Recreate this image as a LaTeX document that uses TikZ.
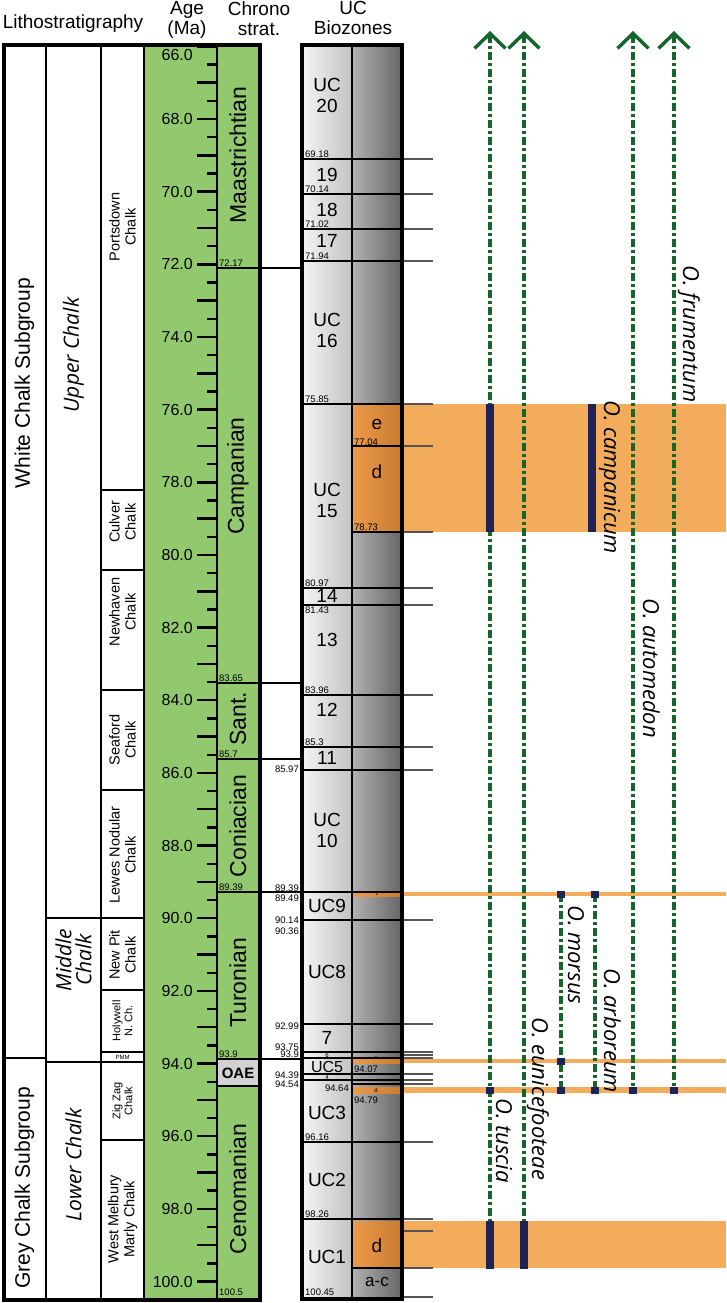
\documentclass[tikz,border=0pt]{standalone}
\usepackage{fontspec}
\setmainfont{Liberation Sans}
\newfontfamily\spfont{Open Sans}
\usetikzlibrary{arrows.meta}
\definecolor{agegreen}{RGB}{146,201,110}
\definecolor{oaegrey}{RGB}{210,210,210}
\definecolor{bandorange}{RGB}{243,171,92}
\definecolor{zonelt}{RGB}{236,155,76}
\definecolor{zonedk}{RGB}{202,122,46}
\definecolor{navy}{RGB}{30,34,84}
\definecolor{spgreen}{RGB}{21,101,45}
\definecolor{tickgrey}{RGB}{85,85,85}
\tikzstyle{hd}=[font=\fontsize{19}{20}\selectfont, align=center, inner sep=0, anchor=north]
\tikzstyle{agelab}=[font=\fontsize{16}{16}\selectfont, anchor=east, inner sep=0]
\tikzstyle{num}=[font=\fontsize{9.5}{10}\selectfont, inner sep=0]
\tikzstyle{zone}=[font=\fontsize{19}{21}\selectfont, align=center, inner sep=0]
\tikzstyle{stage}=[font=\fontsize{23}{23}\selectfont, rotate=90, inner sep=0]
\tikzstyle{fm}=[font=\fontsize{14.5}{16}\selectfont, rotate=90, align=center, inner sep=0]
\tikzstyle{grp}=[font=\fontsize{21}{21}\selectfont, rotate=90, inner sep=0]
\tikzstyle{unit}=[font=\fontsize{21}{20}\selectfont\spfont\itshape, rotate=90, align=center, inner sep=0]
\tikzstyle{taxon}=[font=\fontsize{22}{22}\selectfont\spfont\itshape, rotate=-90, anchor=base west, inner sep=0]
\tikzstyle{rng}=[spgreen, line width=3.4pt, dash pattern=on 8pt off 3pt on 3pt off 3pt]
\tikzstyle{hit}=[fill=navy, minimum width=8pt, minimum height=7pt, inner sep=0]
\tikzstyle{bd}=[line width=2pt]
\tikzstyle{tk}=[tickgrey, line width=2pt]

\begin{document}
\begin{tikzpicture}[x=1pt, y=-1pt]
\useasboundingbox (0,0) rectangle (726,1303);
\node[hd, anchor=base] (hlitho) at (73,29) {Lithostratigraphy};
\node[hd] (hage) at (187,1.5) {Age\\(Ma)};
\node[hd] (hchron) at (259,1.5) {Chrono\\strat.};
\node[hd] (huc) at (353,1.5) {UC\\Biozones};

\fill[agegreen] (144,45) rectangle (259,1299);
\fill[oaegrey] (217,1059) rectangle (259,1086);
\draw[bd] (217,1086) -- (259,1086);
\foreach \a in {0,...,34}
	{\draw[line width=2.5pt] (197,{46.3+36.33*\a}) -- (217,{46.3+36.33*\a});
	\draw[line width=2.5pt] (207,{64.5+36.33*\a}) -- (217,{64.5+36.33*\a});}
\node[agelab] (a66) at (193,55) {66.0};
\foreach \a [evaluate=\a as \v using {int(66+2*\a)}] in {1,...,17}
	\node[agelab] (a\v) at (193,{46.3+72.66*\a}) {\v.0};

\foreach \y/\t [count=\i] in {268/72.17,683/83.65,759/85.7,892/89.39,1059/93.9}
	{\draw[bd] (217,\y) -- (302,\y);
	\node[num, anchor=south west] (cb\i) at (219,\y-1) {\t};}
\node[num, anchor=south west] (cb6) at (219,1296) {100.5};
\node[stage] (maas) at (238,155) {Maastrichtian};
\node[stage] (camp) at (238,476) {Campanian};
\node[stage] (sant) at (238,719) {Sant.};
\node[stage] (coni) at (238,826) {Coniacian};
\node[stage] (turo) at (238,983) {Turonian};
\node[stage] (ceno) at (238,1189) {Cenomanian};
\node[font=\fontsize{15}{15}\selectfont\bfseries, inner sep=0] (oae) at (238,1073) {OAE};

\foreach \y in {490,570,690,790,918,990,1052,1062,1140}
	\draw[bd] (101,\y) -- (144,\y);
\draw[bd] (46,918) -- (101,918) (46,1062) -- (101,1062) (3,1058) -- (46,1058);
\draw[bd] (46,45) -- (46,1299) (101,45) -- (101,1299) (144,45) -- (144,1299) (217,45) -- (217,1299);
\node[grp] (white) at (24.5,383) {White Chalk Subgroup};
\node[grp] (grey) at (24.5,1188) {Grey Chalk Subgroup};
\node[unit] (upper) at (73.5,355) {Upper Chalk};
\node[unit] (middle) at (73.5,960) {Middle\\Chalk};
\node[unit] (lower) at (73.5,1165) {Lower Chalk};
\node[fm] (portsdown) at (122.5,227) {Portsdown\\Chalk};
\node[fm] (culver) at (122.5,522) {Culver\\Chalk};
\node[fm] (newhaven) at (122.5,612) {Newhaven\\Chalk};
\node[fm] (seaford) at (122.5,740) {Seaford\\Chalk};
\node[fm] (lewes) at (122.5,855) {Lewes Nodular\\Chalk};
\node[fm] (newpit) at (122.5,955) {New Pit\\Chalk};
\node[fm, font=\fontsize{11}{12}\selectfont] (holywell) at (122.5,1021) {Holywell\\N. Ch.};
\node[font=\fontsize{6}{6}\selectfont, inner sep=0] (pmm) at (122.5,1057) {PMM};
\node[fm, font=\fontsize{11}{12}\selectfont] (zigzag) at (122.5,1101) {Zig Zag\\Chalk};
\node[fm] (westmelbury) at (122.5,1219) {West Melbury\\Marly Chalk};
\draw[line width=4pt] (3.5,45) rectangle (259.5,1299.5);

\shade[left color=black!4, right color=black!24] (302,45) rectangle (352,1298);
\shade[left color=black!30, right color=black!60] (352,45) rectangle (401.5,1298);
\foreach \ya/\yb in {404/532,892/896,1059/1063,1087/1093,1221/1268}
	{\shade[left color=zonelt, right color=zonedk] (352,\ya) rectangle (401.5,\yb);
	\fill[bandorange] (403,\ya) rectangle (726,\yb);}
\foreach \y in {159,194,229,261,404,588,605,695,747,770,892,920,1024,1052,1058,1074,1080,1142,1219}
	\draw[bd] (302,\y) -- (401.5,\y);
\foreach \y in {446,532,1084,1268}
	\draw[bd] (352,\y) -- (401.5,\y);
\foreach \y in {159,194,229,261,404,446,532,588,605,695,747,770,920,1024,1052,1055,1058,1074,1080,1084,1142,1219,1231,1268,1297}
	\draw[tk] (401.5,\y) -- (433,\y);
\draw[line width=4pt] (302,45) rectangle (401.5,1298.5);
\draw[bd] (352,45) -- (352,1298.5);

\foreach \y/\t [count=\i] in {159/69.18,194/70.14,229/71.02,261/71.94,404/75.85,588/80.97,695/83.96,747/85.3,1142/96.16,1219/98.26,1297/100.45}
	\node[num, anchor=south west] (ul\i) at (305,\y-1.5) {\t};
\node[num, anchor=north west] (ul12) at (305,607) {81.43};
\foreach \y/\t [count=\i] in {769/85.97,888/89.39,920/90.14,1026/92.99,1047/93.75,1054/93.9,1075/94.39,1084/94.54}
	\node[num, anchor=east] (uo\i) at (299,\y) {\t};
\node[num, anchor=east] (uo9) at (299,898) {89.49};
\node[num, anchor=east] (uo10) at (299,931) {90.36};
\node[num, anchor=east] (ur1) at (349,1088) {94.64};
\foreach \y/\t [count=\i] in {442/77.04,527/78.73,1069/94.07,1100/94.79}
	\node[num, anchor=west] (ur\i) at (354,\y) {\t};

\node[zone] (z20) at (327,95) {UC\\20};
\node[zone] (z19) at (327,175) {19};
\node[zone] (z18) at (327,210) {18};
\node[zone] (z17) at (327,241) {17};
\node[zone] (z16) at (327,330) {UC\\16};
\node[zone] (z15) at (327,500) {UC\\15};
\node[zone] (z14) at (327,596) {14};
\node[zone] (z13) at (327,640) {13};
\node[zone] (z12) at (327,710) {12};
\node[zone] (z11) at (327,758) {11};
\node[zone] (z10) at (327,830) {UC\\10};
\node[zone] (z9) at (327,906) {UC9};
\node[zone] (z8) at (327,972) {UC8};
\node[zone] (z7) at (327,1038) {7};
\node[zone, font=\fontsize{6}{6}\selectfont] (z6) at (327,1055) {6};
\node[zone, font=\fontsize{16}{16}\selectfont] (z5) at (327,1067) {UC5};
\node[zone, font=\fontsize{6}{6}\selectfont] (z4) at (327,1077) {4};
\node[zone] (z3) at (327,1113) {UC3};
\node[zone] (z2) at (327,1180) {UC2};
\node[zone] (z1) at (327,1257) {UC1};
\node[zone] (s15e) at (377,424) {e};
\node[zone] (s15d) at (377,472) {d};
\node[zone, font=\fontsize{5}{5}\selectfont] (s9c) at (377,894) {c};
\node[zone, font=\fontsize{6}{6}\selectfont] (s5c) at (376,1058) {c};
\node[zone, font=\fontsize{6}{6}\selectfont] (s3d) at (376,1090) {d};
\node[zone] (s1d) at (377,1246) {d};
\node[zone, font=\fontsize{17}{17}\selectfont] (s1ac) at (377,1282) {a-c};

\foreach \x/\yb in {490/1221,524/1221,633/1090,674/1090}
	\draw[rng, {Straight Barb[length=15pt,width=31pt,line width=3.5pt]}-] (\x,31) -- (\x,\yb);
\foreach \x in {561,595}
	\draw[rng] (\x,894) -- (\x,1090);
\fill[navy] (486,404) rectangle (494,532);
\fill[navy] (588,404) rectangle (596,532);
\fill[navy] (486,1221) rectangle (494,1269);
\fill[navy] (520,1221) rectangle (528,1269);
\foreach \x/\y [count=\i] in {561/894,595/894,561/1061,490/1090,561/1090,595/1090,633/1090,674/1090}
	\node[hit] (h\i) at (\x,\y) {};

\node[taxon] (tfru) at (683,265) {O. frumentum};
\node[taxon] (taut) at (643,598) {O. automedon};
\node[taxon] (tcam) at (604,400) {O. campanicum};
\node[taxon] (tmor) at (568,905) {O. morsus};
\node[taxon] (tarb) at (604,968) {O. arboreum};
\node[taxon] (teun) at (532,1017) {O. eunicefooteae};
\node[taxon] (ttus) at (496,1098) {O. tuscia};
\end{tikzpicture}
\end{document}
